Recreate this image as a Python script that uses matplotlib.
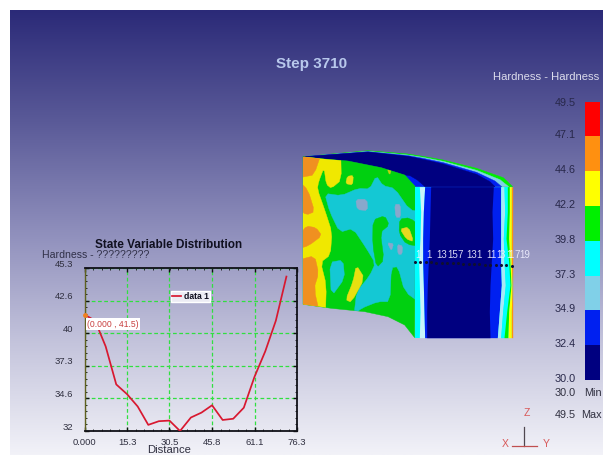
import numpy as np
import matplotlib
matplotlib.use("Agg")
import matplotlib.pyplot as plt
from matplotlib.patches import Polygon, Rectangle
from matplotlib.colors import LinearSegmentedColormap
from matplotlib.transforms import ScaledTranslation

# ---------- data ----------
distance = [0, 3.8, 7.6, 11.4, 15.3, 19.1, 22.9, 26.7, 30.5, 34.3, 38.2, 42.0, 45.8,
            49.6, 53.4, 57.2, 61.0, 64.9, 68.7, 72.5]
hardness = [41.5, 41.0, 38.9, 35.8, 35.0, 34.0, 32.5, 32.8, 32.85, 32.0, 33.1, 33.5, 34.1,
            32.9, 33.0, 33.9, 36.4, 38.5, 41.0, 44.6]
x_ticks = [0, 15.3, 30.5, 45.8, 61.1, 76.3]
x_labels = ["0.000", "15.3", "30.5", "45.8", "61.1", "76.3"]
y_ticks = [32, 34.66, 37.32, 39.98, 42.64, 45.3]
y_labels = ["32", "34.6", "37.3", "40", "42.6", "45.3"]
bar_labels = ["49.5", "47.1", "44.6", "42.2", "39.8", "37.3", "34.9", "32.4", "30.0"]
bar_colors = ["#ff0000", "#ff9010", "#ffff00", "#00f000", "#00ffff", "#80d0e8", "#0020f0", "#000080"]

RED, ORG, YEL, GRN, CYN, LBL, BLU, NVY = bar_colors
TEAL = "#14c8d4"
GRAY = "#88a8cc"
GREEN2 = "#00d010"
ORANGE2 = "#f09020"
YEL2 = "#f0e800"

plt.rcParams['font.family'] = ['Liberation Sans', 'DejaVu Sans']
W, H = 603, 457
fig = plt.figure(figsize=(W / 100, H / 100), dpi=100, facecolor="white")
ax = fig.add_axes([0, 0, 1, 1])
ax.set_xlim(0, W)
ax.set_ylim(H, 0)
ax.axis("off")

cmap = LinearSegmentedColormap.from_list("bg", ["#2b2a78", "#5a5a98", "#8f8fbc", "#c4c4dc", "#f2f2f8"])
ax.imshow(np.linspace(0, 1, 256).reshape(-1, 1), extent=(10, W, 455, 10), aspect="auto",
          cmap=cmap, zorder=0, interpolation="bilinear")
ax.set_xlim(0, W)
ax.set_ylim(H, 0)


def z5(pts):
    return [(298 + x / 3, 145 + y / 3) for x, y in pts]


def z6(pts):
    return [(410 + x / 3, 145 + y / 3) for x, y in pts]


def chaikin(pts, n=1):
    p = np.array(pts, float)
    for _ in range(n):
        q = np.roll(p, -1, axis=0)
        p = np.column_stack([0.8 * p + 0.2 * q, 0.2 * p + 0.8 * q]).reshape(-1, 2)
    return p


def poly(pts, c, z=2):
    pa = Polygon(pts, closed=True, fc=c, ec=c, lw=0.3, zorder=z)
    ax.add_patch(pa)
    return pa


# ---- top face
lower = z5([(352, 125), (320, 90), (250, 68), (150, 48), (80, 42)])
poly(z5([(15, 35), (210, 17), (330, 27), (375, 34)]) + z6([(100, 45), (200, 70), (280, 98), (308, 125), (0, 125)]) + lower, GRN, 1)
poly(z5([(15, 35), (210, 19), (330, 30), (375, 37)]) + z6([(100, 49), (200, 76), (270, 104), (296, 125), (0, 125)]) + lower, LBL, 1.1)
poly(z5([(15, 35), (210, 20), (330, 32), (375, 40)]) + z6([(100, 53), (200, 82), (255, 108), (275, 125), (0, 125)]) + lower, BLU, 1.2)
poly(z5([(15, 35), (210, 21), (330, 34), (375, 43)]) + z6([(100, 57), (200, 88), (240, 110), (255, 125), (45, 125), (22, 105), (0, 92)]) + z5([(320, 90), (250, 68), (150, 48), (80, 42)]), NVY, 1.3)

# ---- curved side face
outline = [(15, 35), (80, 42), (150, 48), (250, 68), (320, 90), (352, 125), (350, 578),
           (320, 540), (270, 515), (200, 500), (100, 490), (15, 478)]
base = poly(z5(outline), GREEN2, 2)


def blob(pts, c, z):
    pa = poly(z5(chaikin(pts).tolist()), c, z)
    pa.set_clip_path(base)


blob([(0, 10), (128, 10), (130, 105), (100, 130), (85, 118), (78, 68), (62, 110), (58, 132), (82, 200),
      (102, 262), (97, 330), (68, 352), (85, 420), (82, 520), (0, 520)], YEL2, 2.1)
for b in (
    [(0, 10), (75, 10), (48, 90), (20, 95), (0, 100)],
    [(0, 105), (30, 135), (50, 200), (25, 210), (0, 190)],
    [(25, 243), (54, 248), (72, 272), (32, 302), (0, 312), (5, 270)],
    [(0, 345), (50, 332), (62, 385), (48, 430), (68, 520), (35, 520), (0, 460)],
):
    blob(b, ORANGE2, 2.2)
blob([(80, 145), (130, 152), (180, 130), (215, 132), (235, 92), (255, 122), (290, 130), (335, 195), (375, 200),
      (375, 340), (375, 480), (320, 440), (300, 365), (280, 368), (276, 470), (240, 470), (190, 490), (168, 510),
      (176, 440), (215, 392), (232, 355), (205, 310), (165, 250), (125, 262), (95, 200)], TEAL, 2.3)
blob([(95, 352), (135, 345), (140, 400), (100, 455)], TEAL, 2.3)
blob([(225, 225), (260, 212), (274, 240), (247, 262), (258, 345), (236, 368), (224, 300)], GREEN2, 2.4)
blob([(305, 222), (335, 218), (375, 250), (375, 305), (325, 298), (303, 265)], GREEN2, 2.4)
blob([(306, 252), (332, 246), (347, 290), (325, 282)], "#e8d820", 2.5)
blob([(175, 360), (200, 400), (160, 472), (143, 464), (165, 410)], "#e8e010", 2.5)
blob([(148, 94), (166, 91), (164, 120), (143, 116)], "#e8e010", 2.5)
blob([(268, 74), (280, 74), (275, 90)], "#c0d010", 2.5)
for b in ([(173, 163), (207, 163), (209, 197), (178, 194)],
          [(290, 178), (307, 178), (308, 217), (293, 217)],
          [(268, 293), (287, 296), (280, 318)],
          [(298, 298), (314, 303), (312, 328), (300, 328)]):
    blob(b, GRAY, 2.6)

# ---- flat front face, bands from left to right
rows = np.array([125, 200, 280, 350, 420, 500, 578])
bands = [
    (CYN, [15, 15, 15, 15, 15, 15, 15], [308, 308, 308, 308, 308, 308, 308]),
    ("#c8f4fa", [28, 32, 30, 26, 28, 30, 28], [44, 40, 38, 38, 40, 42, 44]),
    (BLU, [44, 40, 38, 38, 40, 42, 44], [272, 272, 272, 272, 274, 268, 262]),
    (NVY, [62, 60, 58, 55, 52, 50, 50], [250, 246, 248, 244, 240, 238, 240]),
    ("#a8e8f4", [272, 272, 272, 272, 274, 268, 262], [282, 284, 280, 282, 286, 278, 272]),
    (CYN, [282, 284, 280, 282, 286, 278, 272], [292, 292, 288, 296, 300, 290, 282]),
    (GRN, [292, 292, 288, 296, 300, 290, 282], [298, 298, 296, 300, 303, 296, 294]),
    (YEL, [298, 298, 296, 300, 303, 296, 294], [304, 304, 304, 304, 306, 304, 304]),
    (ORG, [304, 304, 304, 304, 306, 304, 304], [308, 308, 308, 308, 308, 308, 308]),
]
for c, a, b in bands:
    ax.fill_betweenx(145 + rows / 3, 410 + np.array(a) / 3, 410 + np.array(b) / 3, color=c, lw=0, zorder=3)

# node points and labels
node_x = np.linspace(15, 305, 19)
node_y = np.linspace(350, 362, 19)
ax.plot(410 + node_x / 3, 145 + node_y / 3, "o", ms=1.2, color="#101030", zorder=4, ls="none")
lab_x = [16, 50, 80, 112, 142, 170, 200, 228, 240, 258, 270, 288, 296, 312, 328]
lab_s = ["1", "1", "13", "15", "7", "13", "1", "1", "1", "1", "3", "1", "1", "7", "19"]
for lx, s in zip(lab_x, lab_s):
    ax.text(410 + lx / 3, 145 + 346 / 3, s, color="#f0f0ff", alpha=0.9, fontsize=7, ha="left", va="bottom", zorder=5)

# ---- title texts
ax.text(312, 64, "Step 3710", color="#b8c8ec", fontsize=11, fontweight="bold", ha="center", va="center", zorder=6)
ax.text(493, 77, "Hardness - Hardness", color="#dcdcec", fontsize=8.1, ha="left", va="center", zorder=6)

# ---- colour bar
edges = np.linspace(101.7, 380, len(bar_colors) + 1)
for c, e0, e1 in zip(bar_colors, edges[:-1], edges[1:]):
    ax.add_patch(Rectangle((585, e0), 15, e1 - e0, fc=c, ec="none", zorder=3))
for lab, e in zip(bar_labels, edges):
    ax.text(576, e + 1 if lab == "49.5" else e - 1, lab, color="#28284a", fontsize=7.8, ha="right", va="center", zorder=6)
ax.text(576, 393, "30.0", color="#303040", fontsize=7.8, ha="right", va="center", zorder=6)
ax.text(584, 393, "Min", color="#303040", fontsize=7.8, ha="left", va="center", zorder=6)
ax.text(576, 415, "49.5", color="#303040", fontsize=7.8, ha="right", va="center", zorder=6)
ax.text(581, 415, "Max", color="#303040", fontsize=7.8, ha="left", va="center", zorder=6)

# ---- triad
ax.plot([524, 524], [427, 446], color="#504850", lw=0.9, zorder=6)
ax.plot([512, 537], [446, 446], color="#c05050", lw=0.9, zorder=6)
for s, x, y in (("Z", 527, 413), ("X", 505, 444), ("Y", 546, 444)):
    ax.text(x, y, s, color="#d85858", fontsize=7.5, ha="center", va="center", zorder=6)

# ---- XY plot
L, R, T, B = 84.5, 297, 268, 431
pl = fig.add_axes([L / W, 1 - B / H, (R - L) / W, (B - T) / H], facecolor="none")
pl.set_xlim(0, 76.3)
pl.set_ylim(32, 45.3)
line, = pl.plot(distance, hardness, color="#d81830", lw=1.25, zorder=3)
pl.plot([distance[0]], [hardness[0]], "o", color="#f08020", ms=2.5, clip_on=False, zorder=4)
pl.set_xticks(x_ticks)
pl.set_xticklabels(x_labels, fontsize=6.8, color="#303040")
pl.set_yticks(y_ticks)
pl.set_yticklabels(y_labels, fontsize=6.8, color="#303040")
pl.set_xticks(np.arange(0, 76.3, 76.3 / 25), minor=True)
pl.set_yticks(np.arange(32, 45.3, 13.3 / 25), minor=True)
pl.tick_params(which="major", direction="in", top=True, right=True, length=3, width=1, pad=5, color="#101010")
pl.tick_params(which="minor", direction="in", top=True, right=True, length=1.5, width=0.6, color="#101010")
pl.tick_params(axis="y", which="major", pad=8)
shift = ScaledTranslation(0, 5 / 100, fig.dpi_scale_trans)
for t in pl.get_yticklabels():
    t.set_transform(t.get_transform() + shift)
pl.grid(True, which="major", color="#30e040", ls=(0, (3, 2)), lw=0.9)
for s in ("top", "right", "bottom"):
    pl.spines[s].set_linewidth(1.3)
    pl.spines[s].set_color("#101018")
pl.spines["left"].set_linewidth(1.0)
pl.spines["left"].set_color("#606020")
pl.text(0.014, 0.655, "(0.000 , 41.5)", transform=pl.transAxes, fontsize=6.2, color="#c84040",
        va="center", ha="left", bbox=dict(fc="white", ec="none", pad=0.9), zorder=6)
leg = pl.legend([line], ["data 1"], loc="upper left", bbox_to_anchor=(0.408, 0.858),
                prop={"weight": "bold", "size": 6.2}, frameon=True, fancybox=False, framealpha=1,
                facecolor="#ececf4", edgecolor="white", handlelength=1.0, handletextpad=0.4,
                borderpad=0.12, borderaxespad=0)
leg.get_texts()[0].set_color("#101020")

ax.text(169, 245, "State Variable Distribution", fontsize=8.5, fontweight="bold", color="#101020",
        ha="center", va="center", zorder=6)
ax.text(42, 255, "Hardness - ?????????", fontsize=7.6, color="#303048", ha="left", va="center", zorder=6)
ax.text(169, 450, "Distance", fontsize=8.1, color="#303040", ha="center", va="center", zorder=6)

fig.savefig("out.png", dpi=100, facecolor="white")
